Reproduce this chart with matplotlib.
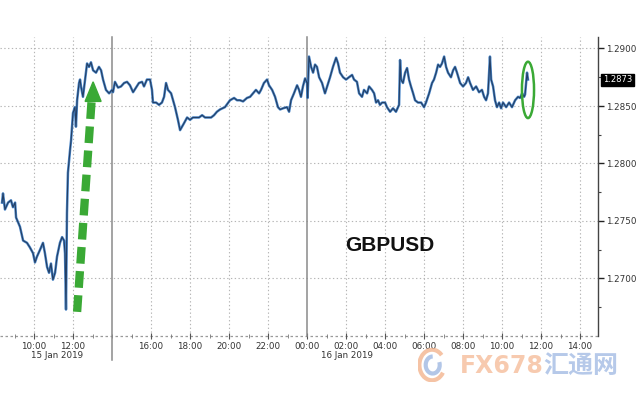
import matplotlib
matplotlib.use("Agg")
import matplotlib.pyplot as plt
import matplotlib.transforms as mtransforms
from matplotlib.patches import Ellipse, Polygon, Arc
import numpy as np

# ---- data: hours since 15 Jan 2019 00:00, GBPUSD price ----
hours = [8.36, 8.41, 8.51, 8.67, 8.82, 8.92, 9.03, 9.08, 9.28, 9.44, 9.64, 9.79, 9.95,
         10.05, 10.15, 10.31, 10.46, 10.56, 10.67, 10.77, 10.87, 10.97, 11.08, 11.18,
         11.33, 11.44, 11.54, 11.59, 11.64, 11.69, 11.74, 11.85, 11.90, 11.95, 12.00,
         12.10, 12.15, 12.21, 12.31, 12.36, 12.41, 12.51, 12.62, 12.72, 12.82, 12.92,
         13.03, 13.18, 13.33, 13.44, 13.54, 13.69, 13.85, 14.00, 14.05, 14.15, 14.31,
         14.46, 14.62, 14.77, 14.92, 15.08, 15.23, 15.38, 15.54, 15.64, 15.79, 15.95,
         16.05, 16.10, 16.26, 16.41, 16.56, 16.67, 16.77, 16.87, 17.03, 17.13, 17.23,
         17.38, 17.49, 17.59, 17.69, 17.85, 18.00, 18.15, 18.31, 18.46, 18.62, 18.77,
         18.92, 19.08, 19.23, 19.38, 19.54, 19.79, 20.05, 20.26, 20.41, 20.56, 20.72,
         20.92, 21.08, 21.23, 21.38, 21.54, 21.64, 21.79, 21.95, 22.05, 22.21, 22.36,
         22.51, 22.62, 22.77, 22.97, 23.08, 23.18, 23.33, 23.49, 23.59, 23.69, 23.79,
         23.90, 24.00, 24.03, 24.10, 24.21, 24.31, 24.41, 24.51, 24.62, 24.77, 24.92,
         25.03, 25.18, 25.33, 25.49, 25.59, 25.69, 25.85, 26.00, 26.15, 26.31, 26.41,
         26.56, 26.67, 26.82, 26.92, 27.08, 27.18, 27.33, 27.44, 27.54, 27.64, 27.74,
         27.85, 28.00, 28.10, 28.26, 28.41, 28.56, 28.72, 28.77, 28.82, 28.92, 29.03,
         29.13, 29.23, 29.33, 29.44, 29.54, 29.69, 29.85, 30.00, 30.10, 30.26, 30.41,
         30.51, 30.62, 30.72, 30.82, 30.92, 31.03, 31.13, 31.23, 31.38, 31.49, 31.59,
         31.69, 31.85, 32.00, 32.15, 32.26, 32.36, 32.51, 32.67, 32.82, 32.97, 33.08,
         33.18, 33.28, 33.38, 33.44, 33.54, 33.64, 33.74, 33.85, 33.95, 34.05, 34.21,
         34.36, 34.51, 34.67, 34.82, 34.92, 35.03, 35.13, 35.18, 35.23, 35.28, 35.33]
prices = [1.2766, 1.2774, 1.2760, 1.2766, 1.2768, 1.2762, 1.2766, 1.2753, 1.2745, 1.2733, 1.2731, 1.2727, 1.2722,
          1.2714, 1.2719, 1.2725, 1.2731, 1.2722, 1.2710, 1.2705, 1.2713, 1.2699, 1.2705, 1.2719,
          1.2731, 1.2736, 1.2733, 1.2722, 1.2673, 1.2757, 1.2792, 1.2812, 1.2820, 1.2832, 1.2844,
          1.2849, 1.2832, 1.2855, 1.2870, 1.2873, 1.2867, 1.2858, 1.2873, 1.2887, 1.2884, 1.2888,
          1.2881, 1.2879, 1.2884, 1.2881, 1.2873, 1.2864, 1.2861, 1.2864, 1.2862, 1.2871, 1.2866,
          1.2867, 1.2870, 1.2871, 1.2868, 1.2862, 1.2866, 1.2870, 1.2871, 1.2867, 1.2873, 1.2873,
          1.2864, 1.2853, 1.2853, 1.2851, 1.2853, 1.2858, 1.2870, 1.2864, 1.2861, 1.2855, 1.2849,
          1.2838, 1.2829, 1.2832, 1.2835, 1.2840, 1.2838, 1.2840, 1.2840, 1.2840, 1.2842, 1.2840,
          1.2840, 1.2840, 1.2842, 1.2845, 1.2847, 1.2849, 1.2855, 1.2857, 1.2855, 1.2855, 1.2854,
          1.2857, 1.2858, 1.2861, 1.2864, 1.2861, 1.2864, 1.2870, 1.2873, 1.2868, 1.2864, 1.2858,
          1.2849, 1.2847, 1.2848, 1.2849, 1.2845, 1.2855, 1.2861, 1.2868, 1.2864, 1.2858, 1.2867,
          1.2874, 1.2870, 1.2857, 1.2893, 1.2884, 1.2879, 1.2886, 1.2884, 1.2875, 1.2870, 1.2861,
          1.2867, 1.2875, 1.2884, 1.2892, 1.2887, 1.2879, 1.2875, 1.2873, 1.2875, 1.2877, 1.2873,
          1.2871, 1.2861, 1.2858, 1.2864, 1.2861, 1.2867, 1.2864, 1.2861, 1.2853, 1.2855, 1.2851,
          1.2853, 1.2853, 1.2849, 1.2845, 1.2848, 1.2845, 1.2851, 1.2890, 1.2873, 1.2870, 1.2879,
          1.2883, 1.2873, 1.2867, 1.2861, 1.2855, 1.2853, 1.2853, 1.2849, 1.2853, 1.2861, 1.2870,
          1.2873, 1.2879, 1.2886, 1.2884, 1.2887, 1.2893, 1.2884, 1.2879, 1.2875, 1.2881, 1.2884,
          1.2879, 1.2870, 1.2867, 1.2870, 1.2875, 1.2870, 1.2864, 1.2867, 1.2862, 1.2864, 1.2858,
          1.2855, 1.2861, 1.2893, 1.2873, 1.2867, 1.2855, 1.2849, 1.2853, 1.2848, 1.2853, 1.2849,
          1.2853, 1.2849, 1.2855, 1.2858, 1.2857, 1.2861, 1.2858, 1.2860, 1.2870, 1.2879, 1.2873]

last_price = 1.2873
ytick_vals = [1.2700, 1.2750, 1.2800, 1.2850, 1.2900]
xtick_hours = [10, 12, 16, 18, 20, 22, 24, 26, 28, 30, 32, 34, 36, 38]
date_labels = ["15 Jan 2019", "16 Jan 2019"]
date_label_hours = [11.18, 26.05]
session_lines = [14.0, 24.0]

fig = plt.figure(figsize=(6.4, 4.0), dpi=100)
ax = fig.add_axes([0.0, 0.16, 598 / 640, 0.7475])
ax.set_xlim(8.256, 38.92)
ax.set_ylim(1.2650, 1.2910)

# grid
for yv in ytick_vals:
    ax.axhline(yv, color="#b5b5b5", lw=0.8, ls=(0, (1.2, 2.2)), zorder=1)
ax.axhline(1.2650, color="#9a9a9a", lw=0.9, ls=(0, (2, 2)), zorder=1, clip_on=False)
for xv in xtick_hours:
    if xv not in session_lines:
        ax.axvline(xv, color="#b5b5b5", lw=0.8, ls=(0, (1.2, 2.2)), zorder=1)
ax.plot([session_lines[0]] * 2, [1.2910, 1.2650 - 0.0021], color="#8a8a8a", lw=1.1,
        clip_on=False, zorder=2)
ax.plot([session_lines[1]] * 2, [1.2910, 1.2650], color="#8a8a8a", lw=1.1,
        clip_on=False, zorder=2)

# price line
ax.plot(hours, prices, color="#4a86c8", lw=1.8, zorder=3, solid_joinstyle="round")
ax.plot(hours, prices, color="#14213a", lw=0.8, alpha=0.7, zorder=4)

# spines
for s in ["top", "left", "bottom"]:
    ax.spines[s].set_visible(False)
ax.spines["right"].set_color("#444444")
ax.spines["right"].set_linewidth(1.0)

# y axis on right
ax.yaxis.tick_right()
ax.set_yticks(ytick_vals)
ax.set_yticklabels([f"{v:.4f}" for v in ytick_vals])
ax.set_yticks(np.arange(1.2675, 1.2910, 0.0050), minor=True)
ax.tick_params(axis="y", which="major", length=4, width=1.0, color="#222222",
               labelsize=6.3, labelcolor="#333333", pad=2)
ax.tick_params(axis="y", which="minor", length=2.5, width=0.8, color="#444444")

# x axis
ax.set_xticks(xtick_hours)
ax.set_xticklabels([f"{int(h) % 24:02d}:00" for h in xtick_hours])
ax.set_xticks(np.arange(9, 39, 1), minor=True)
ax.tick_params(axis="x", which="major", direction="inout", length=4, width=0.8,
               color="#555555", labelsize=6.3, labelcolor="#333333", pad=2)
ax.tick_params(axis="x", which="minor", direction="inout", length=2.5, width=0.6,
               color="#777777")

trans = mtransforms.blended_transform_factory(ax.transData, ax.transAxes)
for lab, hx in zip(date_labels, date_label_hours):
    ax.text(hx, -0.066, lab, transform=trans, ha="center", va="center",
            fontsize=6.3, color="#333333")

# last price tag
ax.text(1.008, (last_price - 1.2650) / (1.2910 - 1.2650), f"{last_price:.4f}",
        transform=ax.transAxes, ha="left", va="center", fontsize=6.0, color="white",
        bbox=dict(boxstyle="square,pad=0.18", fc="black", ec="black"))

# title text
ax.text(28.26, 1.2729, "GBPUSD", ha="center", va="center", fontsize=15,
        fontweight="bold", family="Liberation Sans", color="#111111", zorder=6)

# green dashed arrow
g = "#3aa935"
ax.plot([12.21, 12.95], [1.2671, 1.2854], color=g, lw=6, ls=(0, (2.0, 0.9)),
        solid_capstyle="butt", dash_capstyle="butt", zorder=5)
ax.add_patch(Polygon([[13.03, 1.2871], [12.62, 1.2854], [13.44, 1.2854]],
                     closed=True, fc=g, ec=g, zorder=5))

# green ellipse
ax.add_patch(Ellipse((35.33, 1.2864), 0.62, 0.0049, fill=False, ec=g, lw=1.8, zorder=6))

# watermark
fig.text(460 / 640, 1 - 366 / 400, "FX678", fontsize=17, fontweight="bold",
         color="#f5b994", alpha=0.75, ha="left", va="center", family="DejaVu Sans")
fig.text(543 / 640, 1 - 366 / 400, "汇通网", fontsize=18, fontweight="bold",
         color="#a9c0e6", alpha=0.85, ha="left", va="center",
         family=["Noto Sans CJK SC", "DejaVu Sans"])
wax = fig.add_axes([418 / 640, 1 - 382 / 400, 28 / 640, 34 / 400])
wax.set_xlim(-1, 1); wax.set_ylim(-1, 1); wax.axis("off")
wax.add_patch(Arc((0, 0), 1.8, 1.8, theta1=40, theta2=330,
                  color="#f3b58f", lw=3, alpha=0.8))
wax.add_patch(Arc((0.05, 0), 1.0, 1.0, theta1=90, theta2=380,
                  color="#9fb8e2", lw=3, alpha=0.8))

fig.savefig("out.png", dpi=100)
